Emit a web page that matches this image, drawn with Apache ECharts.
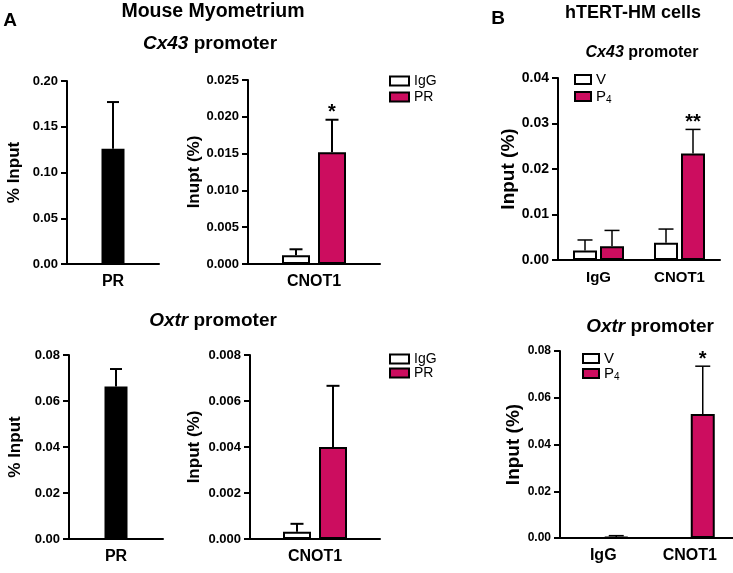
<!DOCTYPE html>
<html>
<head>
<meta charset="utf-8">
<script src="https://cdn.jsdelivr.net/npm/echarts@6.0.0/dist/echarts.min.js"></script>
<style>
html,body{margin:0;padding:0;background:#fff;}
#chart{width:733px;height:573px;}
</style>
</head>
<body>
<div id="chart"></div>
<script>
// ---------------- DATA ----------------
// A, Cx43 promoter (mouse myometrium)
const cx43MouseCats = ['PR'];
const cx43MousePR = [0.126];
const cx43MousePRErr = [0.051];

const cx43MouseCnotCats = ['CNOT1'];
const cx43MouseIgG = [0.0012];
const cx43MouseIgGErr = [0.0008];
const cx43MouseCnotPR = [0.0152];
const cx43MouseCnotPRErr = [0.0044];
const cx43MouseSig = ['*'];

// B, Cx43 promoter (hTERT-HM cells)
const cellCats = ['IgG', 'CNOT1'];
const cx43CellsV = [0.0021, 0.0038];
const cx43CellsVErr = [0.0023, 0.0030];
const cx43CellsP4 = [0.0030, 0.0234];
const cx43CellsP4Err = [0.0035, 0.0053];
const cx43CellsSig = ['', '**'];

// A, Oxtr promoter (mouse myometrium)
const oxtrMouseCats = ['PR'];
const oxtrMousePR = [0.0663];
const oxtrMousePRErr = [0.0076];

const oxtrMouseCnotCats = ['CNOT1'];
const oxtrMouseIgG = [0.00032];
const oxtrMouseIgGErr = [0.00034];
const oxtrMouseCnotPR = [0.0040];
const oxtrMouseCnotPRErr = [0.00266];

// B, Oxtr promoter (hTERT-HM cells)
const oxtrCellsV = [0, 0];
const oxtrCellsVErr = [0, 0];
const oxtrCellsP4 = [0.0004, 0.053];
const oxtrCellsP4Err = [0.0006, 0.0205];
const oxtrCellsSig = ['', '*'];

// ---------------- STYLE ----------------
const FONT = "'Liberation Sans', Arial, sans-serif";
const MAGENTA = '#cc0d5f';

const option = {
  animation: false,
  backgroundColor: '#fff',
  grid: [], xAxis: [], yAxis: [], series: [], legend: [], graphic: []
};

function addPanel(i, p) {
  option.grid.push(Object.assign({containLabel: false}, p.grid));
  option.xAxis.push({
    gridIndex: i, type: 'category', data: p.cats,
    axisLine: {lineStyle: {color: '#000', width: 2}},
    axisTick: {alignWithLabel: true, length: 6, lineStyle: {color: '#000', width: 2}},
    axisLabel: {color: '#000', fontWeight: 'bold', fontSize: p.catFont, fontFamily: FONT, margin: 10}
  });
  option.yAxis.push({
    gridIndex: i, type: 'value', min: 0, max: p.max, interval: p.interval,
    name: p.yName, nameLocation: 'middle', nameGap: p.nameGap,
    nameTextStyle: {color: '#000', fontWeight: 'bold', fontSize: p.nameFont, fontFamily: FONT},
    axisLine: {show: true, lineStyle: {color: '#000', width: 2}},
    axisTick: {show: true, length: 6, lineStyle: {color: '#000', width: 2}},
    axisLabel: {color: '#000', fontWeight: 'bold', fontSize: p.tickFont, fontFamily: FONT, margin: 9,
      formatter: v => v.toFixed(p.dec)},
    splitLine: {show: false}
  });
  const n = p.series.length;
  p.series.forEach((s, k) => {
    option.series.push({
      type: 'bar', name: s.name, xAxisIndex: i, yAxisIndex: i, data: s.values,
      barWidth: p.bw, barGap: (p.gap / p.bw * 100) + '%',
      itemStyle: {color: s.color, borderColor: '#000', borderWidth: 2},
      silent: true
    });
  });
  // error bars (+ significance marks)
  const rows = [];
  p.series.forEach((s, k) => {
    s.values.forEach((v, ci) => rows.push([ci, v, s.err[ci], k, s.sig ? s.sig[ci] : '']));
  });
  option.series.push({
    type: 'custom', xAxisIndex: i, yAxisIndex: i, silent: true, z: 5,
    data: rows.map(r => [r[0], r[1], r[2], r[3]]),
    encode: {x: 0, y: 1},
    renderItem: (params, api) => {
      const r = rows[params.dataIndex];
      const ci = r[0], m = r[1], e = r[2], slot = r[3], sig = r[4];
      const base = api.coord([ci, m]);
      const top = api.coord([ci, m + e]);
      const x = base[0] + (slot - (n - 1) / 2) * (p.bw + p.gap);
      const ch = [];
      if (e > 0) {
        ch.push({type: 'line', shape: {x1: x, y1: base[1], x2: x, y2: top[1]}, style: {stroke: '#000', lineWidth: p.elw}});
        ch.push({type: 'line', shape: {x1: x - p.cap / 2, y1: top[1], x2: x + p.cap / 2, y2: top[1]}, style: {stroke: '#000', lineWidth: p.elw}});
      }
      if (sig) {
        ch.push({type: 'text', style: {text: sig, x: x, y: top[1] - 17, textAlign: 'center', textVerticalAlign: 'top',
          font: 'bold 20px ' + FONT, fill: '#000'}});
      }
      return {type: 'group', children: ch};
    }
  });
  if (p.legend) {
    option.legend.push(Object.assign({
      data: p.series.map(s => s.name), orient: 'vertical', icon: 'rect',
      itemWidth: p.legend.w, itemHeight: 9, itemGap: p.legend.gap,
      textStyle: {color: '#000', fontSize: p.legend.font, fontFamily: FONT,
        rich: {s: {fontSize: 10, fontFamily: FONT, padding: [8, 0, 0, 0], color: '#000'}}},
      formatter: nm => nm === 'P4' ? 'P{s|4}' : nm,
      selectedMode: false
    }, p.legend.pos));
  }
}

// Panel A top-left
addPanel(0, {
  grid: {left: 67, top: 81, width: 92, height: 183},
  cats: cx43MouseCats, max: 0.20, interval: 0.05, dec: 2,
  yName: '% Input', nameGap: 44, nameFont: 17, tickFont: 13, catFont: 16,
  bw: 23, gap: 0, cap: 12, elw: 2,
  series: [{name: 'PR ChIP', values: cx43MousePR, err: cx43MousePRErr, color: '#000'}]
});
// Panel A top-middle
addPanel(1, {
  grid: {left: 248, top: 80, width: 132, height: 184},
  cats: cx43MouseCnotCats, max: 0.025, interval: 0.005, dec: 3,
  yName: 'Inupt (%)', nameGap: 45, nameFont: 17, tickFont: 13, catFont: 16,
  bw: 28, gap: 8, cap: 13, elw: 2,
  series: [
    {name: 'IgG', values: cx43MouseIgG, err: cx43MouseIgGErr, color: '#fff'},
    {name: 'PR', values: cx43MouseCnotPR, err: cx43MouseCnotPRErr, color: MAGENTA, sig: cx43MouseSig}
  ],
  legend: {w: 19, gap: 2, font: 14, pos: {left: 384, top: 69}}
});
// Panel B top
addPanel(2, {
  grid: {left: 558, top: 78, width: 162, height: 182},
  cats: cellCats, max: 0.04, interval: 0.01, dec: 2,
  yName: 'Input (%)', nameGap: 40, nameFont: 19, tickFont: 14, catFont: 15,
  bw: 24, gap: 3, cap: 15, elw: 1.5,
  series: [
    {name: 'V', values: cx43CellsV, err: cx43CellsVErr, color: '#fff'},
    {name: 'P4', values: cx43CellsP4, err: cx43CellsP4Err, color: MAGENTA, sig: cx43CellsSig}
  ],
  legend: {w: 16, gap: 2, font: 15, pos: {left: 569, top: 67}}
});
// Panel A bottom-left
addPanel(3, {
  grid: {left: 69, top: 355, width: 94, height: 184},
  cats: oxtrMouseCats, max: 0.08, interval: 0.02, dec: 2,
  yName: '% Input', nameGap: 45, nameFont: 17, tickFont: 13, catFont: 16,
  bw: 23, gap: 0, cap: 12, elw: 2,
  series: [{name: 'PR ChIP', values: oxtrMousePR, err: oxtrMousePRErr, color: '#000'}]
});
// Panel A bottom-middle
addPanel(4, {
  grid: {left: 250, top: 355, width: 130, height: 184},
  cats: oxtrMouseCnotCats, max: 0.008, interval: 0.002, dec: 3,
  yName: 'Input (%)', nameGap: 47, nameFont: 17, tickFont: 13, catFont: 16,
  bw: 28, gap: 8, cap: 13, elw: 2,
  series: [
    {name: 'IgG', values: oxtrMouseIgG, err: oxtrMouseIgGErr, color: '#fff'},
    {name: 'PR', values: oxtrMouseCnotPR, err: oxtrMouseCnotPRErr, color: MAGENTA}
  ],
  legend: {w: 19, gap: 0, font: 14, pos: {left: 384, top: 347}}
});
// Panel B bottom
addPanel(5, {
  grid: {left: 560, top: 351, width: 178, height: 187},
  cats: cellCats, max: 0.08, interval: 0.02, dec: 2,
  yName: 'Input (%)', nameGap: 33, nameFont: 19, tickFont: 12, catFont: 16,
  bw: 24, gap: 2, cap: 15, elw: 1.5,
  series: [
    {name: 'V', values: oxtrCellsV, err: oxtrCellsVErr, color: '#fff'},
    {name: 'P4', values: oxtrCellsP4, err: oxtrCellsP4Err, color: MAGENTA, sig: oxtrCellsSig}
  ],
  legend: {w: 16, gap: 0, font: 15, pos: {left: 577, top: 346}}
});

// ---------------- TITLES ----------------
function title(txt, x, y, size, rich) {
  const st = {text: txt, x: x, y: y, textAlign: 'center', textVerticalAlign: 'middle',
    font: 'bold ' + size + 'px ' + FONT, fill: '#000'};
  if (rich) st.rich = {i: {fontStyle: 'italic', fontWeight: 'bold', fontSize: size, fontFamily: FONT, fill: '#000'}};
  option.graphic.push({type: 'text', silent: true, style: st});
}
title('A', 10, 21, 19);
title('Mouse Myometrium', 213, 12, 19.5);
title('{i|Cx43} promoter', 210, 44, 19, true);
title('B', 498, 19, 19);
title('hTERT-HM cells', 633, 13, 18);
title('{i|Cx43} promoter', 642, 53, 16, true);
title('{i|Oxtr} promoter', 213, 321, 19, true);
title('{i|Oxtr} promoter', 650, 327, 19, true);

const chart = echarts.init(document.getElementById('chart'));
chart.setOption(option);
</script>
</body>
</html>
